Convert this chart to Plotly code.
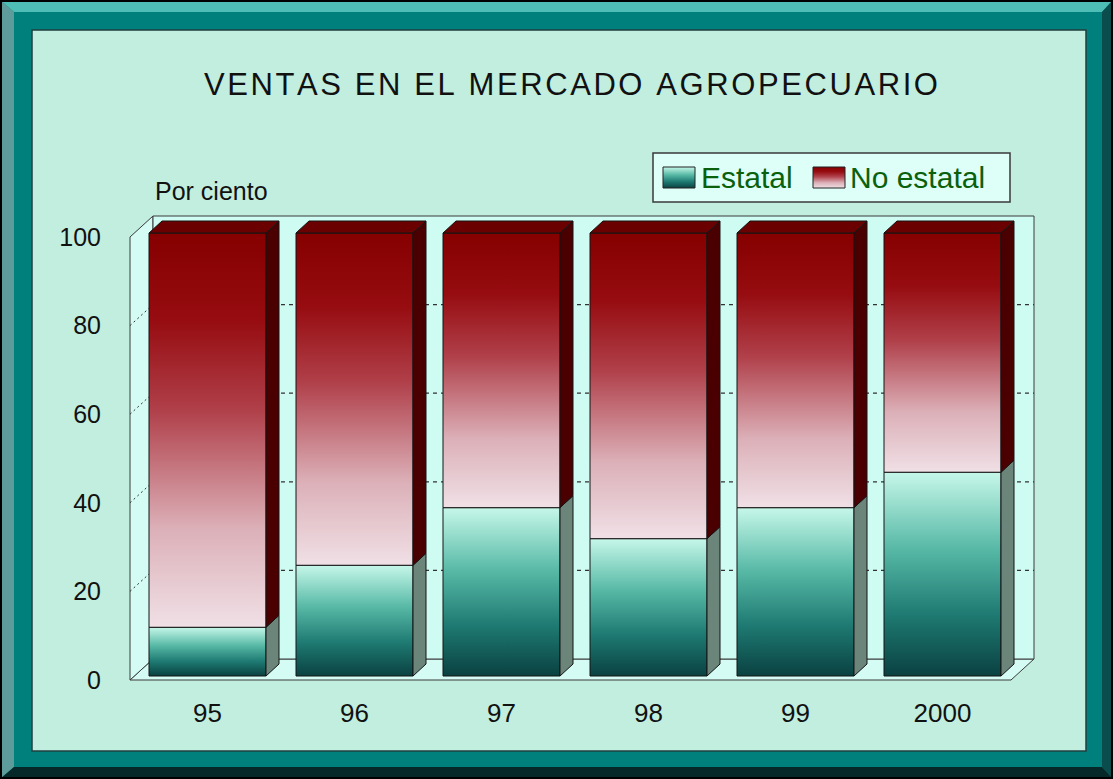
import plotly.graph_objects as go

# ---------------- data ----------------
years = ["95", "96", "97", "98", "99", "2000"]
estatal = [11, 25, 38, 31, 38, 46]
no_estatal = [89, 75, 62, 69, 62, 54]
y_ticks = [0, 20, 40, 60, 80, 100]
y_tick_labels = ["0", "20", "40", "60", "80", "100"]
series_names = ["Estatal", "No estatal"]
title_text = "VENTAS EN EL MERCADO AGROPECUARIO"
y_label = "Por ciento"

# ---------------- geometry / style ----------------
W, H = 1113, 779
PX_PER_CAT = 147.0
CAT0_PX = 207.5
PX_PER_UNIT = 4.43
ZERO_PX = 680.0
DOM_X = (118, 1048)
DOM_Y = (200, 694)

HW = 58.5 / PX_PER_CAT          # half width of a bar front
BDX = 13 / PX_PER_CAT           # bar depth (x)
BDY = 12 / PX_PER_UNIT          # bar depth (y)
FY = 4 / PX_PER_UNIT            # bars sit a bit behind the front plane
WDX = 23 / PX_PER_CAT           # wall depth
WDY = 21 / PX_PER_UNIT
XA = (130 - CAT0_PX) / PX_PER_CAT   # front-left edge
XF = (1011 - CAT0_PX) / PX_PER_CAT  # front-right edge of floor

FONT = "Liberation Sans, Arial, sans-serif"

ES_SCALE = [[0, "#0a4141"], [0.3, "#1e7a72"], [0.62, "#56b8a5"], [1, "#c6f7e9"]]
NE_SCALE = [[0, "#f0e0e6"], [0.25, "#dcb0b8"], [0.55, "#b0404a"],
            [0.78, "#960c10"], [1, "#860000"]]
ES_SIDE = "#6b857b"
NE_SIDE = "#4a0000"
TOP_COL = "#6a0000"
EDGE = "#141414"

fig = go.Figure()


def poly(xs, ys, **kw):
    return go.Scatter(x=xs + [xs[0]], y=ys + [ys[0]], mode="lines", fill="toself",
                      line=dict(color=EDGE, width=1), hoverinfo="skip",
                      showlegend=False, **kw)


for i, (e, n) in enumerate(zip(estatal, no_estatal)):
    xl, xr = i - HW, i + HW
    y0, y1, y2 = FY, FY + e, FY + e + n
    # front faces
    fig.add_trace(poly([xl, xr, xr, xl], [y0, y0, y1, y1],
                       fillgradient=dict(type="vertical", colorscale=ES_SCALE)))
    fig.add_trace(poly([xl, xr, xr, xl], [y1, y1, y2, y2],
                       fillgradient=dict(type="vertical", colorscale=NE_SCALE)))
    # side faces
    fig.add_trace(poly([xr, xr + BDX, xr + BDX, xr], [y0, y0 + BDY, y1 + BDY, y1],
                       fillcolor=ES_SIDE))
    fig.add_trace(poly([xr, xr + BDX, xr + BDX, xr], [y1, y1 + BDY, y2 + BDY, y2],
                       fillcolor=NE_SIDE))
    # top face
    fig.add_trace(poly([xl, xl + BDX, xr + BDX, xr], [y2, y2 + BDY, y2 + BDY, y2],
                       fillcolor=TOP_COL))

# legend swatches (pixel-coordinate overlay axes)
sw = [(663, 167, 695, 188, ES_SCALE), (813, 167, 845, 188, NE_SCALE)]
for (x0, y0, x1, y1, cs) in sw:
    fig.add_trace(go.Scatter(x=[x0, x1, x1, x0, x0], y=[y1, y1, y0, y0, y1],
                             mode="lines", fill="toself", xaxis="x2", yaxis="y2",
                             line=dict(color="#222", width=1),
                             fillgradient=dict(type="vertical", colorscale=cs),
                             hoverinfo="skip", showlegend=False))

# ---------------- shapes ----------------
def px(x):
    return x / W


def py(y):
    return 1 - y / H


def path_px(points):
    s = "M " + " L ".join(f"{px(a):.5f},{py(b):.5f}" for a, b in points) + " Z"
    return s


shapes = []
shapes.append(dict(type="path", xref="paper", yref="paper", layer="below",
                   path=path_px([(0, 0), (1113, 0), (1102, 12), (14, 12)]),
                   fillcolor="#4dbdb5", line=dict(width=0)))
shapes.append(dict(type="path", xref="paper", yref="paper", layer="below",
                   path=path_px([(0, 0), (14, 12), (14, 767), (0, 779)]),
                   fillcolor="#5d9c9a", line=dict(width=0)))
shapes.append(dict(type="path", xref="paper", yref="paper", layer="below",
                   path=path_px([(1113, 0), (1113, 779), (1102, 767), (1102, 12)]),
                   fillcolor="#0b4d4d", line=dict(width=0)))
shapes.append(dict(type="path", xref="paper", yref="paper", layer="below",
                   path=path_px([(0, 779), (14, 767), (1102, 767), (1113, 779)]),
                   fillcolor="#072828", line=dict(width=0)))
shapes.append(dict(type="rect", xref="paper", yref="paper", layer="below",
                   x0=px(1), y0=py(1), x1=px(1112), y1=py(778),
                   line=dict(color="#000", width=2)))
shapes.append(dict(type="rect", xref="paper", yref="paper", layer="below",
                   x0=px(32), y0=py(30), x1=px(1086), y1=py(751),
                   fillcolor="#c2eedf", line=dict(color="#1f3f3f", width=1.5)))
shapes.append(dict(type="rect", xref="paper", yref="paper", layer="below",
                   x0=px(653), y0=py(153), x1=px(1010), y1=py(202),
                   fillcolor="#ddfff8", line=dict(color="#3a3a3a", width=1.5)))

WALL_LINE = dict(color="#3a3a3a", width=1)


def dpath(points):
    return "M " + " L ".join(f"{a:.5f},{b:.5f}" for a, b in points) + " Z"


# floor
shapes.append(dict(type="path", xref="x", yref="y", layer="below",
                   path=dpath([(XA, 0), (XA + WDX, WDY), (XF + WDX, WDY), (XF, 0)]),
                   fillcolor="#d4fcf4", line=WALL_LINE))
# left wall
shapes.append(dict(type="path", xref="x", yref="y", layer="below",
                   path=dpath([(XA, 0), (XA, 100), (XA + WDX, 100 + WDY), (XA + WDX, WDY)]),
                   fillcolor="#d4fcf4", line=WALL_LINE))
# back wall
shapes.append(dict(type="path", xref="x", yref="y", layer="below",
                   path=dpath([(XA + WDX, WDY), (XA + WDX, 100 + WDY),
                               (XF + WDX, 100 + WDY), (XF + WDX, WDY)]),
                   fillcolor="#cefbf2", line=WALL_LINE))
for v in y_ticks[1:-1]:
    shapes.append(dict(type="line", xref="x", yref="y", layer="below",
                       x0=XA + WDX, x1=XF + WDX, y0=v + WDY, y1=v + WDY,
                       line=dict(color="#333", width=1.2, dash="4px,4px")))
    shapes.append(dict(type="line", xref="x", yref="y", layer="below",
                       x0=XA, x1=XA + WDX, y0=v, y1=v + WDY,
                       line=dict(color="#333", width=1, dash="2px,3px")))

# ---------------- annotations ----------------
annotations = [
    dict(text="\u200a".join(title_text), x=px(571), y=py(84), xref="paper", yref="paper",
         showarrow=False, xanchor="center", yanchor="middle",
         font=dict(family=FONT, size=31, color="#111")),
    dict(text=y_label, x=px(211), y=py(191), xref="paper", yref="paper",
         showarrow=False, xanchor="center", yanchor="middle",
         font=dict(family=FONT, size=25, color="#111")),
    dict(text=series_names[0], x=px(699), y=py(178), xref="paper", yref="paper",
         showarrow=False, xanchor="left", yanchor="middle",
         font=dict(family=FONT, size=30, color="#0b600b")),
    dict(text=series_names[1], x=px(848), y=py(178), xref="paper", yref="paper",
         showarrow=False, xanchor="left", yanchor="middle",
         font=dict(family=FONT, size=30, color="#0b600b")),
]

xr_range = [(DOM_X[0] - CAT0_PX) / PX_PER_CAT, (DOM_X[1] - CAT0_PX) / PX_PER_CAT]
yr_range = [(ZERO_PX - DOM_Y[1]) / PX_PER_UNIT, (ZERO_PX - DOM_Y[0]) / PX_PER_UNIT]

fig.update_layout(
    width=W, height=H,
    margin=dict(l=0, r=0, t=0, b=0),
    paper_bgcolor="#00807c",
    plot_bgcolor="rgba(0,0,0,0)",
    showlegend=False,
    shapes=shapes,
    annotations=annotations,
    xaxis=dict(domain=[DOM_X[0] / W, DOM_X[1] / W], range=xr_range,
               tickvals=list(range(len(years))), ticktext=years,
               tickfont=dict(family=FONT, size=26, color="#111"),
               showgrid=False, zeroline=False, showline=False, ticks="",
               ticklabelstandoff=1, fixedrange=True, anchor="y"),
    yaxis=dict(domain=[1 - DOM_Y[1] / H, 1 - DOM_Y[0] / H], range=yr_range,
               tickvals=y_ticks, ticktext=y_tick_labels,
               tickfont=dict(family=FONT, size=25, color="#111"),
               showgrid=False, zeroline=False, showline=False, ticks="",
               ticklabelstandoff=16, fixedrange=True, anchor="x"),
    xaxis2=dict(domain=[0, 1], range=[0, W], visible=False, fixedrange=True, anchor="y2"),
    yaxis2=dict(domain=[0, 1], range=[H, 0], visible=False, fixedrange=True, anchor="x2"),
)

fig.write_html("out.html", config={"displayModeBar": False},
               post_script="document.body.style.margin='0';"
                           "document.body.style.overflow='hidden';")
